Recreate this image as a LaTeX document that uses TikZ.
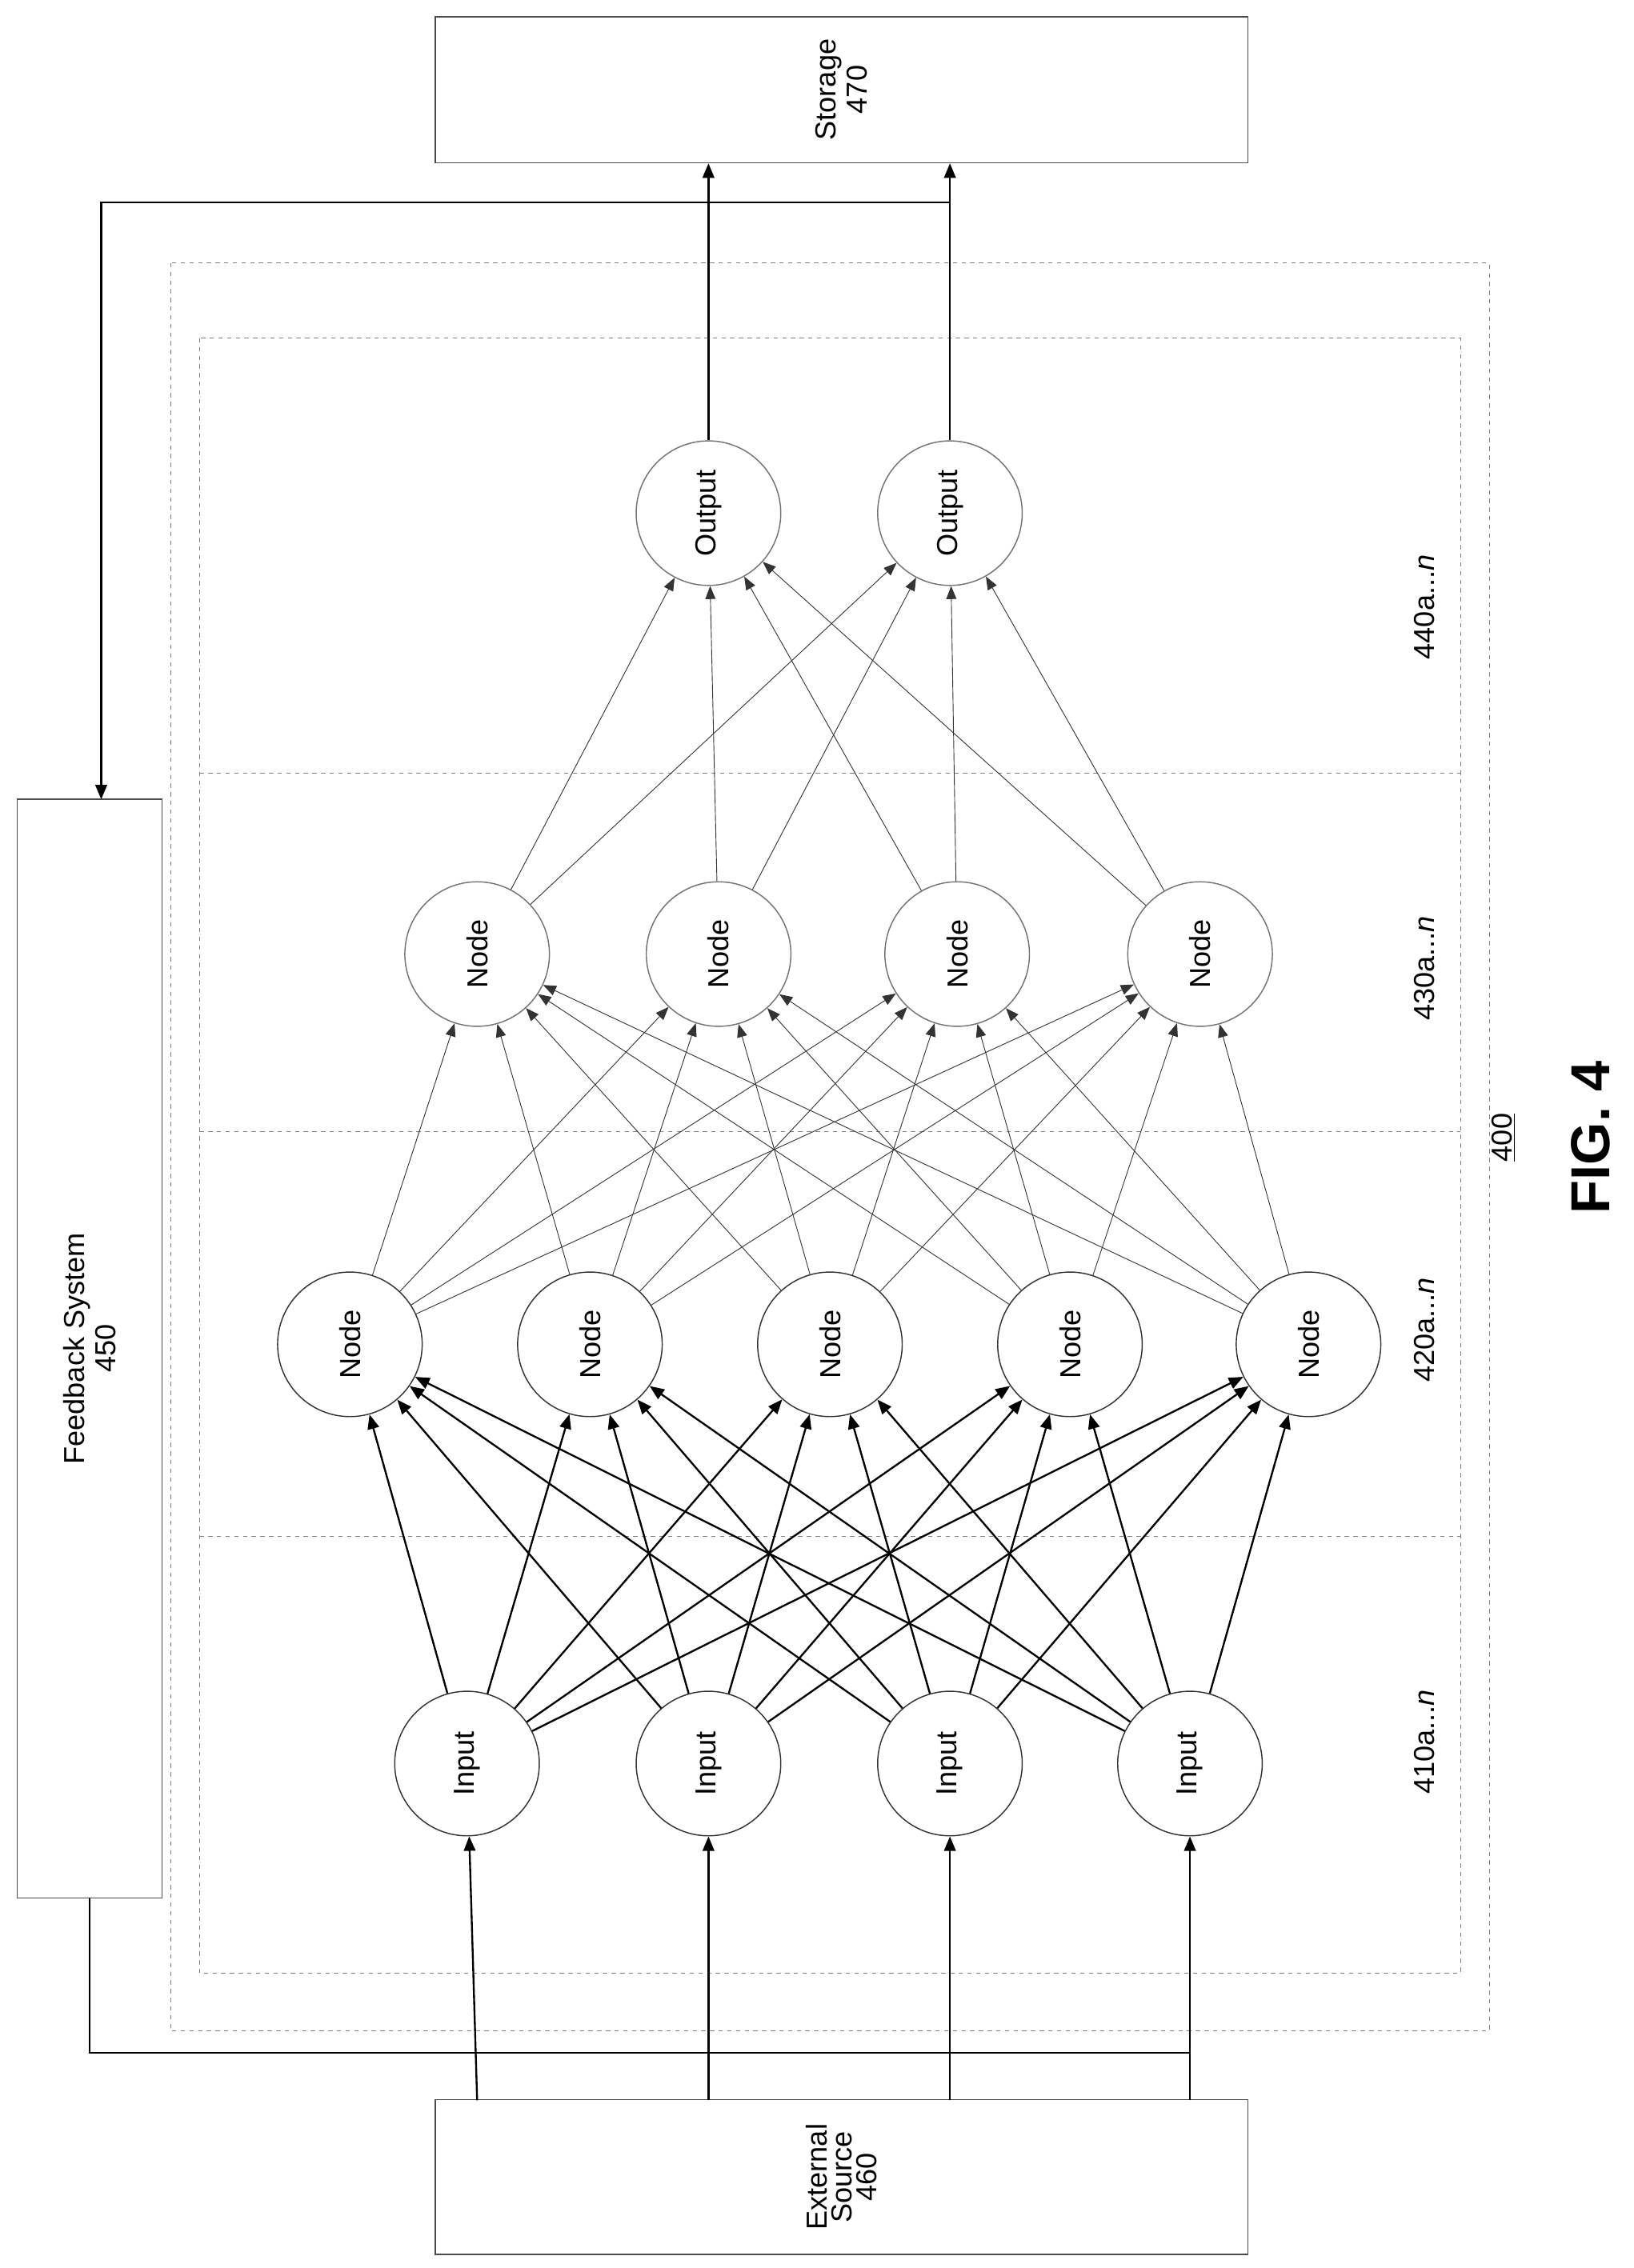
\documentclass[tikz,border=0pt]{standalone}
\usepackage{fontspec}
\setmainfont{Liberation Sans}
\usetikzlibrary{arrows.meta}
\begin{document}
\begin{tikzpicture}[x=1pt,y=-1pt,
  nd/.style={circle,draw=black!80,thick,minimum size=100pt,inner sep=0pt,font=\fontsize{20}{23}\selectfont,rotate=90},
  ndl/.style={nd,draw=black!55},
  bx/.style={draw=black!70,thick,align=center,font=\fontsize{20}{23}\selectfont},
  dsh/.style={draw=black!50,dashed,thin},
  thk/.style={-{Triangle[length=10pt,width=8pt]},line width=1.3pt},
  thn/.style={-{Triangle[length=9pt,width=7pt]},black!80,line width=0.5pt},
  lbl/.style={rotate=90,font=\fontsize{20}{23}\selectfont}]
\useasboundingbox (0,0) rectangle (1130,1569);
\fill[white] (0,0) rectangle (1130,1569);
\node[bx,minimum width=562pt,minimum height=101pt] (st) at (582,62) {\rotatebox{90}{\shortstack{Storage\\470}}};
\node[bx,minimum width=562pt,minimum height=107pt] (ex) at (582,1506) {\rotatebox{90}{\shortstack{External\\Source\\460}}};
\node[bx,minimum width=100pt,minimum height=760pt] (fb) at (62,933) {\rotatebox{90}{\shortstack{Feedback System\\450}}};
\draw[dsh] (118,182) rectangle (1030,1405);
\draw[dsh] (138,234) rectangle (1010,1365);
\draw[dsh] (138,535) -- (1010,535);
\draw[dsh] (138,783) -- (1010,783);
\draw[dsh] (138,1063) -- (1010,1063);
\foreach \i/\x in {1/323,2/490,3/657,4/823} \node[nd] (i\i) at (\x,1220) {Input};
\foreach \i/\x in {1/242,2/408,3/574,4/740,5/905} \node[nd] (a\i) at (\x,930) {Node};
\foreach \i/\x in {1/330,2/497,3/662,4/830} \node[ndl] (b\i) at (\x,660) {Node};
\foreach \i/\x in {1/490,2/657} \node[ndl] (o\i) at (\x,355) {Output};
\foreach \i in {1,...,4} \foreach \j in {1,...,5} \draw[thk] (i\i) -- (a\j);
\foreach \i in {1,...,5} \foreach \j in {1,...,4} \draw[thn] (a\i) -- (b\j);
\foreach \i in {1,...,4} \foreach \j in {1,2} \draw[thn] (b\i) -- (o\j);
\foreach \i/\x in {1/330,2/490,3/657,4/823} {\coordinate (e\i) at (\x,1453); \draw[thk] (e\i) -- (i\i);}
\foreach \i/\x in {1/490,2/657} {\coordinate (s\i) at (\x,113); \draw[thk] (o\i) -- (s\i);}
\coordinate (f1) at (657,140); \coordinate (f2) at (70,140); \coordinate (f3) at (70,553);
\draw[thk] (f1) -- (f2) -- (f3);
\coordinate (g1) at (62,1313); \coordinate (g2) at (62,1420); \coordinate (g3) at (823,1420);
\draw[line width=1.3pt] (g1) -- (g2) -- (g3);
\node[lbl] (l4) at (985,420) {440a...\textit{n}};
\node[lbl] (l3) at (985,670) {430a...\textit{n}};
\node[lbl] (l2) at (985,920) {420a...\textit{n}};
\node[lbl] (l1) at (985,1205) {410a...\textit{n}};
\node[lbl] (n400) at (1040,787) {\underline{400}};
\node[rotate=90,font=\fontsize{38}{42}\selectfont\bfseries] (fig) at (1100,787) {FIG. 4};
\end{tikzpicture}
\end{document}
